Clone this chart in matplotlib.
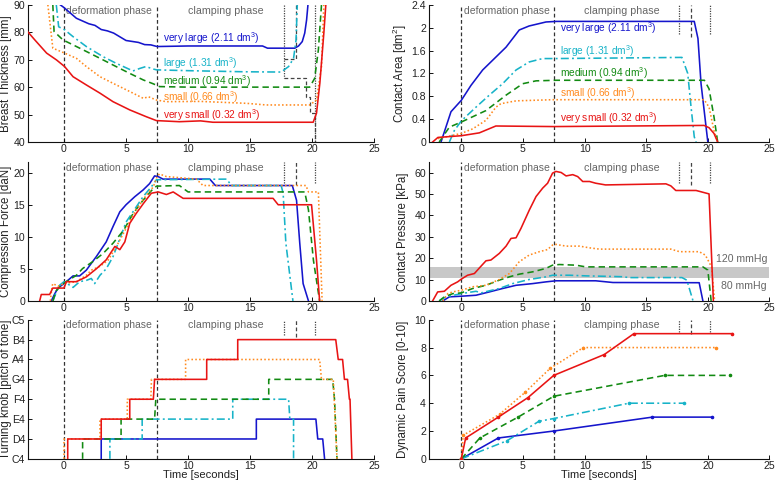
import matplotlib
matplotlib.use('Agg')
import matplotlib.pyplot as plt

plt.rcParams['font.family'] = ['Liberation Sans', 'DejaVu Sans']
plt.rcParams['mathtext.fontset'] = 'custom'
plt.rcParams['mathtext.rm'] = 'Liberation Sans'
plt.rcParams['mathtext.it'] = 'Liberation Sans'
plt.rcParams['mathtext.bf'] = 'Liberation Sans'

# ---------------- data ----------------
groups = ['very large', 'large', 'medium', 'small', 'very small']
volumes = ['2.11', '1.31', '0.94', '0.66', '0.32']

# Breast thickness [mm]
bt_vl_x = [-0.3, 0, 1, 2, 2.5, 3, 3.5, 4, 5, 6, 6.5, 7, 7.5, 10, 14, 16, 16.4, 18.6, 18.9, 19.2, 19.4, 19.55, 19.66]
bt_vl_y = [90, 89, 85.1, 83.1, 82.5, 81, 80.5, 79.7, 77, 76.3, 75.5, 75.4, 74.8, 75, 75, 75, 74.2, 74.2, 75, 76.6, 79.7, 84.5, 90]
bt_l_x = [-0.62, -0.43, 0.05, 0.73, 1.8, 3.15, 4.2, 5.56, 6.1, 6.6, 7.2, 7.45, 10, 14.5, 17.5, 18.1, 18.5, 18.7, 18.8]
bt_l_y = [90, 82, 80.9, 78.4, 74.8, 71.1, 68.7, 65.9, 66.8, 67.5, 66.6, 66.3, 66, 65.6, 65.5, 67.5, 70.5, 77.2, 90]
bt_m_x = [-0.9, -0.8, -0.08, 1.0, 1.8, 2.9, 4.2, 5.3, 6.4, 7.2, 7.7, 10, 15, 19.8, 20.2, 20.5, 20.75]
bt_m_y = [90, 80.3, 77.2, 74.8, 73, 70.5, 67.5, 65, 62.6, 61.2, 60.2, 60, 60, 60, 63.2, 73.6, 90]
bt_s_x = [-1.3, -0.9, 0.05, 1.0, 1.8, 2.9, 3.95, 5.3, 6.4, 6.8, 7.45, 8.25, 11, 14.7, 16.3, 19.8, 20.35, 20.75, 20.94]
bt_s_y = [90, 74.2, 72.4, 70.5, 67.5, 63.8, 61.4, 58.4, 55.9, 56.5, 55.3, 54.7, 54.8, 54.1, 53.5, 53.5, 55.3, 67.5, 90]
bt_vs_x = [-3, -2.35, -1.4, -0.6, 0.05, 0.73, 1.8, 2.9, 3.95, 5.3, 6.64, 7.45, 9.3, 11, 12, 20.08, 20.35, 20.62, 20.94, 21.1]
bt_vs_y = [80.6, 77.2, 72.4, 69.9, 67.5, 63.8, 60.8, 57.8, 54.7, 51.7, 49.2, 47.8, 47.4, 47.7, 47.2, 47.2, 50.5, 61.5, 79.7, 90]
bt_mark1_x = [17.7, 18.66, 18.66]
bt_mark1_y = [70.3, 70.3, 90]
bt_mark2_x = [17.7, 19.5, 19.5, 19.8, 19.8, 20.2, 20.2]
bt_mark2_y = [63.4, 63.4, 56.5, 56.5, 50.5, 50.5, 40]

# Contact area [dm^2]
ca_vl_x = [-1.65, -0.84, 0, 0.78, 1.73, 2.68, 3.63, 4.7, 5.5, 6.87, 7.7, 18.9, 19.2, 19.45, 20.0]
ca_vl_y = [0, 0.53, 0.73, 0.99, 1.26, 1.46, 1.66, 1.96, 2.03, 2.1, 2.11, 2.11, 1.81, 1.02, 0]
ca_l_x = [-0.97, -0.57, 0, 1.19, 2.27, 3.35, 4.44, 5.5, 6.6, 7.7, 17.9, 18.37, 18.64, 18.9, 19.05]
ca_l_y = [0, 0.2, 0.37, 0.61, 0.82, 1.02, 1.26, 1.4, 1.46, 1.46, 1.48, 1.2, 0.61, 0.09, 0]
ca_m_x = [-1.8, -0.97, 0, 2.0, 3.63, 4.98, 6.06, 7.7, 19.72, 20.1, 20.5, 20.8]
ca_m_y = [0, 0.26, 0.35, 0.55, 0.82, 1.02, 1.07, 1.08, 1.08, 0.93, 0.44, 0]
ca_s_x = [-1.9, 0, 0.92, 2.0, 2.81, 3.2, 4.44, 7.4, 19.7, 20.1, 20.5, 20.8]
ca_s_y = [0.06, 0.15, 0.23, 0.38, 0.61, 0.67, 0.72, 0.74, 0.74, 0.61, 0.2, 0]
ca_vs_x = [-2.33, -1.9, 0, 1.46, 2.8, 7.5, 19.7, 20.1, 20.5, 20.8]
ca_vs_y = [0, 0.08, 0.11, 0.16, 0.28, 0.27, 0.29, 0.25, 0.15, 0]

# Compression force [daN]
cf_vl_x = [-1.02, -0.75, -0.48, 0.19, 0.73, 1.26, 1.8, 2.6, 3.4, 3.95, 4.5, 5.0, 5.7, 6.37, 6.9, 7.3, 7.58, 7.98, 11.75, 12.2, 18.4, 18.74, 19.0, 19.27, 19.7]
cf_vl_y = [0, 1.1, 2, 3, 3.9, 3.9, 4.8, 6.9, 9.2, 11.6, 13.9, 15, 16.25, 17.3, 18.3, 19.5, 19.4, 19, 19, 18, 18, 15.7, 9, 2.7, 0]
cf_l_x = [-0.89, -0.62, -0.35, 0, 0.46, 0.73, 1.26, 1.8, 2.2, 2.47, 2.9, 3.4, 3.95, 4.5, 5.0, 5.56, 6.37, 7.04, 7.45, 13.1, 13.5, 17.5, 17.66, 17.88, 18.45]
cf_l_y = [0, 1.4, 2.45, 3, 2.45, 2.1, 3, 3.2, 3.5, 2.7, 4, 5, 6.9, 9.7, 12.3, 13.9, 16.25, 17.8, 18.9, 19, 18, 18, 16.8, 9, 0]
cf_m_x = [-0.9, -0.62, -0.22, 0.19, 1.0, 1.5, 2.3, 3.15, 3.95, 4.8, 5.56, 6.37, 7.04, 7.45, 9.3, 10.0, 19.4, 19.7, 20.1, 20.6]
cf_m_y = [0, 1.6, 2.45, 3, 4, 5.05, 6.1, 7.4, 9, 11, 13.6, 15.7, 17.2, 17.9, 18, 17, 17, 14.2, 6.35, 0]
cf_s_x = [-1.1, -0.97, -0.9, -0.48, 0, 1.0, 1.8, 2.2, 2.9, 3.55, 4.2, 5.0, 5.8, 6.64, 7.2, 7.5, 7.7, 8.25, 10.67, 11.2, 19.5, 19.7, 20.5, 20.8]
cf_s_y = [0, 2.2, 2.7, 2.3, 2.7, 3, 4, 4.8, 5.4, 6.35, 8.4, 11.3, 14.2, 16.5, 17.8, 19.4, 19.8, 19.4, 19, 18, 18, 17, 17, 0]
cf_vs_x = [-1.96, -1.83, -1.16, -0.9, 0, 0.19, 1.0, 1.8, 2.6, 3.4, 4.1, 4.5, 4.9, 5.3, 5.8, 6.4, 7.04, 7.6, 8.25, 8.8, 9.6, 16.85, 17.26, 19.95, 20.35, 20.6]
cf_vs_y = [0, 1, 1, 2, 2, 3, 3, 3.75, 5, 6.4, 8.5, 8, 9.2, 12.1, 13.6, 15.2, 16.8, 17, 16.6, 17, 16, 16, 15, 15, 6.35, 0]

# Contact pressure [kPa]
cp_vl_x = [-1.5, -0.97, 0, 1.19, 2.27, 3.35, 4.44, 5.8, 6.87, 7.68, 10.9, 12.3, 19.3, 19.6]
cp_vl_y = [0, 1.9, 2.2, 2.65, 4.2, 5.8, 7.3, 8.1, 8.9, 9.4, 9.4, 8.6, 8.5, 0]
cp_l_x = [-1.8, -1.25, 0, 1.19, 1.6, 2.27, 3.08, 4.17, 5.5, 6.87, 7.4, 8.77, 10.1, 11.7, 13.1, 13.6, 17.9, 18.3, 18.8]
cp_l_y = [0, 1.9, 3.4, 4.5, 3.75, 4.7, 5.8, 8.1, 10, 11.25, 12, 12, 11.7, 11.5, 11.3, 10.9, 10.9, 9.7, 0]
cp_m_x = [-1.8, -1.38, -0.7, 0, 0.92, 2.0, 3.08, 3.9, 4.7, 5.8, 6.87, 7.4, 7.95, 9.3, 10.1, 19.6, 20.0, 20.27]
cp_m_y = [0, 1.9, 3.4, 3.75, 5.8, 7.3, 9.7, 11.25, 12.5, 13.6, 15.2, 16.7, 17, 16.7, 15.9, 15.9, 14.4, 0]
cp_s_x = [-1.5, -1.1, -0.7, 0, 0.92, 2.0, 3.08, 3.9, 4.7, 5.5, 6.33, 7.0, 7.4, 7.68, 8.5, 9.58, 10.4, 11.2, 17.0, 17.7, 19.3, 19.8, 20.3, 20.55]
cp_s_y = [0, 3.4, 4.2, 5, 6.6, 7.3, 10, 12.8, 18.3, 21.4, 23, 24, 26.1, 26.4, 25.6, 25.6, 24.8, 24.2, 24.2, 23, 23, 21.4, 15.9, 0]
cp_vs_x = [-2.33, -1.92, -1.38, -0.84, -0.3, 0, 0.51, 1.06, 1.6, 2.0, 2.4, 3.08, 3.63, 4.03, 4.44, 4.84, 5.52, 6.06, 6.6, 7.0, 7.4, 7.68, 8.1, 8.5, 9.04, 9.44, 9.85, 10.4, 10.9, 11.7, 16.6, 17.0, 17.4, 19.05, 20.1, 20.45]
cp_vs_y = [0, 4.2, 4.5, 7.3, 8.9, 10.2, 12, 12.8, 16.25, 18.75, 19.1, 22.2, 25.6, 29.2, 29.5, 33.9, 42.5, 48.75, 52.7, 55, 59.7, 60.5, 60, 58.4, 59, 58.1, 55.8, 55.8, 55, 54.2, 54.7, 53.75, 51.6, 51.6, 50, 0]
band_low, band_high = 10.67, 16.0   # 80 mmHg and 120 mmHg in kPa

# Turning knob (pitch of tone), level index into tone labels
tones = ['C4', 'D4', 'E4', 'F4', 'G4', 'A4', 'B4', 'C5']
tk_vl_x = [3.0, 3.0, 15.5, 15.5, 20.3, 20.45, 20.85, 21.0]
tk_vl_y = [0, 1, 1, 2, 2, 1, 1, 0]
tk_l_x = [3.7, 3.7, 6.3, 6.3, 13.6, 13.6, 18.1, 18.2, 18.5, 18.5]
tk_l_y = [0, 1, 1, 2, 2, 3, 3, 2, 2, 0]
tk_m_x = [1.5, 1.5, 4.6, 4.6, 7.3, 7.4, 16.5, 16.5, 21.65, 21.8, 22.0]
tk_m_y = [0, 1, 1, 2, 2, 3, 3, 4, 4, 3, 0]
tk_s_x = [0, 0, 2.9, 2.9, 5.1, 5.1, 7.0, 7.05, 9.8, 9.8, 20.6, 20.75, 21.7, 22.0]
tk_s_y = [0, 1, 1, 2, 2, 3, 3, 4, 4, 5, 5, 4, 4, 0]
tk_vs_x = [0.3, 0.3, 3.0, 3.0, 5.3, 5.3, 7.2, 7.3, 11.5, 11.5, 14.0, 14.0, 21.9, 22.1, 22.45, 22.6, 22.85, 23.0, 23.05, 23.2]
tk_vs_y = [0, 1, 1, 2, 2, 3, 3, 4, 4, 5, 5, 6, 6, 5, 5, 4, 4, 3, 3, 0]

# Dynamic pain score [0-10]
ps_vl_x = [0, 3.0, 7.5, 15.5, 20.3]
ps_vl_y = [0, 1.5, 2.0, 3.0, 3.0]
ps_l_x = [0, 3.7, 6.3, 7.5, 13.6, 18.1]
ps_l_y = [0, 1.3, 2.7, 2.9, 4.0, 4.0]
ps_m_x = [0, 1.5, 4.6, 7.5, 16.5, 21.8]
ps_m_y = [0, 1.5, 3.0, 4.5, 6.0, 6.0]
ps_s_x = [0, 0.15, 3.1, 5.2, 7.2, 9.9, 20.7]
ps_s_y = [0, 1.7, 3.2, 4.8, 6.5, 8.0, 8.0]
ps_vs_x = [0, 0.35, 3.0, 5.4, 7.5, 11.6, 14.0, 22.0]
ps_vs_y = [0, 1.5, 3.0, 4.4, 6.0, 7.5, 9.0, 9.0]

phase_lines = [0, 7.5]
end_marks_dotted = [17.7, 20.2]
end_mark_dashed = 18.66

# ---------------- styles ----------------
colors = ['#1515cc', '#17b3c8', '#128a12', '#ff8a1e', '#e81414']
lstyles = ['-', (0, (5, 2, 1.2, 2)), (0, (4, 2.5)), (0, (1, 1.4)), '-']
LW = 1.15
TXT = '#222222'
GRAY = '#666666'

fig = plt.figure(figsize=(7.78, 4.83), dpi=100)
colL, wL = 0.036, 0.445
colR, wR = 0.551, 0.438
rows = [(0.706, 0.284), (0.377, 0.288), (0.050, 0.288)]

def make_ax(col, row, xlim):
    x0, w = (colL, wL) if col == 0 else (colR, wR)
    y0, h = rows[row]
    ax = fig.add_axes([x0, y0, w, h])
    ax.set_xlim(*xlim)
    for s in ['top', 'right']:
        ax.spines[s].set_visible(False)
    for s in ['left', 'bottom']:
        ax.spines[s].set_linewidth(0.8)
        ax.spines[s].set_color('#111111')
    ax.tick_params(direction='in', length=3, width=0.7, labelsize=7.6, colors='#111111',
                   labelcolor=TXT, pad=2)
    ax.tick_params(axis='x', pad=1.5)
    ax.set_xticks([0, 5, 10, 15, 20, 25])
    return ax

def decorate(ax, mark_frac):
    for xv in phase_lines:
        ax.axvline(xv, color='#333333', lw=0.9, ls=(0, (3, 2)), zorder=1)
    for xv in end_marks_dotted:
        ax.axvline(xv, ymin=1 - mark_frac, ymax=1, color='#444444', lw=0.9, ls=(0, (1, 1)), zorder=1)
    ax.axvline(end_mark_dashed, ymin=1 - mark_frac * 1.1, ymax=1, color='#444444', lw=0.9,
               ls=(0, (3, 2)), zorder=1)
    ax.text(0.2, 0.995, 'deformation phase', transform=ax.get_xaxis_transform(),
            ha='left', va='top', fontsize=7.5, color=GRAY)
    ax.text(13.05, 0.995, 'clamping phase', transform=ax.get_xaxis_transform(),
            ha='center', va='top', fontsize=7.7, color=GRAY)

def plot_series(ax, xs, ys, marker=None):
    for x, y, c, ls in zip(xs, ys, colors, lstyles):
        ax.plot(x, y, color=c, ls=ls, lw=LW, marker=marker, ms=1.6 if marker else 0,
                zorder=3, clip_on=True)

LAB_L = -0.046
LAB_R = -0.058

# ---- Breast thickness ----
ax1 = make_ax(0, 0, (-2.9, 25))
ax1.set_ylim(40, 90)
ax1.set_yticks([40, 50, 60, 70, 80, 90])
decorate(ax1, 0.0)
ax1.plot([17.7, 17.7], [90, 63.4], color='#444444', lw=0.9, ls=(0, (1, 1)), zorder=1)
ax1.plot([20.2, 20.2], [90, 40], color='#444444', lw=0.9, ls=(0, (1, 1)), zorder=1)
ax1.plot(bt_mark1_x, bt_mark1_y, color='#444444', lw=0.9, ls=(0, (3, 2)), zorder=2)
ax1.plot(bt_mark2_x, bt_mark2_y, color='#444444', lw=0.9, ls=(0, (3, 2)), zorder=2)
plot_series(ax1, [bt_vl_x, bt_l_x, bt_m_x, bt_s_x, bt_vs_x],
            [bt_vl_y, bt_l_y, bt_m_y, bt_s_y, bt_vs_y])
ax1.set_ylabel('Breast Thickness [mm]', fontsize=8.3, color=TXT)
ax1.yaxis.set_label_coords(LAB_L, 0.5)
for g, v, c, yy in zip(groups, volumes, colors, [77.8, 68.7, 62.3, 56.5, 49.9]):
    ax1.text(8.0, yy, f'{g} ({v} dm$^{{3}}$)', color=c, fontsize=7.3, ha='left', va='center')

# ---- Contact area ----
ax2 = make_ax(1, 0, (-2.65, 25))
ax2.set_ylim(0, 2.4)
ax2.set_yticks([0, 0.4, 0.8, 1.2, 1.6, 2.0, 2.4])
ax2.set_yticklabels(['0', '0.4', '0.8', '1.2', '1.6', '2', '2.4'])
decorate(ax2, 0.21)
plot_series(ax2, [ca_vl_x, ca_l_x, ca_m_x, ca_s_x, ca_vs_x],
            [ca_vl_y, ca_l_y, ca_m_y, ca_s_y, ca_vs_y])
ax2.set_ylabel('Contact Area [dm$^{2}$]', fontsize=8.3, color=TXT)
ax2.yaxis.set_label_coords(LAB_R, 0.5)
for g, v, c, yy in zip(groups, volumes, colors, [1.99, 1.59, 1.21, 0.85, 0.41]):
    ax2.text(8.0, yy, f'{g} ({v} dm$^{{3}}$)', color=c, fontsize=7.3, ha='left', va='center')

# ---- Compression force ----
ax3 = make_ax(0, 1, (-2.9, 25))
ax3.set_ylim(0, 21.7)
ax3.set_yticks([0, 5, 10, 15, 20])
decorate(ax3, 0.15)
plot_series(ax3, [cf_vl_x, cf_l_x, cf_m_x, cf_s_x, cf_vs_x],
            [cf_vl_y, cf_l_y, cf_m_y, cf_s_y, cf_vs_y])
ax3.set_ylabel('Compression Force [daN]', fontsize=8.3, color=TXT)
ax3.yaxis.set_label_coords(LAB_L, 0.5)

# ---- Contact pressure ----
ax4 = make_ax(1, 1, (-2.65, 25))
ax4.set_ylim(0, 65)
ax4.set_yticks([0, 10, 20, 30, 40, 50, 60])
ax4.axhspan(band_low, band_high, color='#c8c8c8', lw=0, zorder=0)
decorate(ax4, 0.15)
plot_series(ax4, [cp_vl_x, cp_l_x, cp_m_x, cp_s_x, cp_vs_x],
            [cp_vl_y, cp_l_y, cp_m_y, cp_s_y, cp_vs_y])
ax4.text(24.8, band_high + 1.2, '120 mmHg', ha='right', va='bottom', fontsize=7.6, color=GRAY)
ax4.text(24.8, band_low - 1.2, '80 mmHg', ha='right', va='top', fontsize=7.6, color=GRAY)
ax4.set_ylabel('Contact Pressure [kPa]', fontsize=8.3, color=TXT)
ax4.yaxis.set_label_coords(LAB_R, 0.5)

# ---- Turning knob ----
ax5 = make_ax(0, 2, (-2.9, 25))
ax5.set_ylim(0, 7)
ax5.set_yticks(range(len(tones)))
ax5.set_yticklabels(tones)
decorate(ax5, 0.11)
plot_series(ax5, [tk_vl_x, tk_l_x, tk_m_x, tk_s_x, tk_vs_x],
            [tk_vl_y, tk_l_y, tk_m_y, tk_s_y, tk_vs_y])
ax5.set_ylabel('Turning knob [pitch of tone]', fontsize=8.3, color=TXT)
ax5.yaxis.set_label_coords(LAB_L, 0.5)
ax5.set_xlabel('Time [seconds]', fontsize=8.1, color=TXT)
ax5.xaxis.set_label_coords(0.5, -0.083)

# ---- Pain score ----
ax6 = make_ax(1, 2, (-2.65, 25))
ax6.set_ylim(0, 10)
ax6.set_yticks([0, 2, 4, 6, 8, 10])
decorate(ax6, 0.09)
plot_series(ax6, [ps_vl_x, ps_l_x, ps_m_x, ps_s_x, ps_vs_x],
            [ps_vl_y, ps_l_y, ps_m_y, ps_s_y, ps_vs_y], marker='o')
ax6.set_ylabel('Dynamic Pain Score [0-10]', fontsize=8.3, color=TXT)
ax6.yaxis.set_label_coords(LAB_R, 0.5)
ax6.set_xlabel('Time [seconds]', fontsize=8.1, color=TXT)
ax6.xaxis.set_label_coords(0.5, -0.083)

fig.savefig('out.png', dpi=100)
